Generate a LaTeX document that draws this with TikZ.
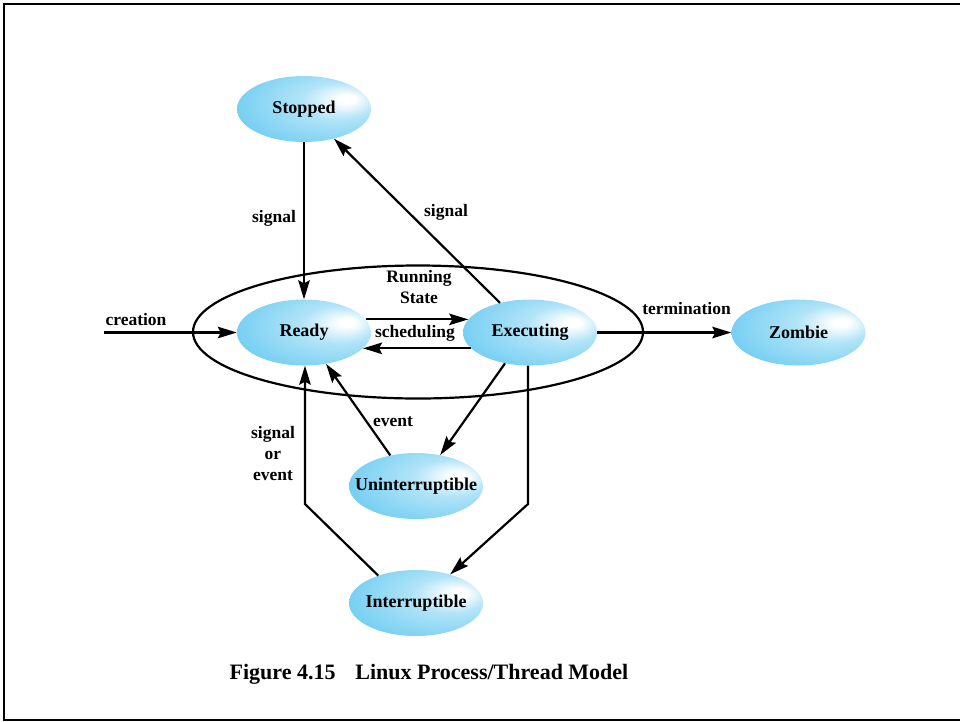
\documentclass[tikz,border=0pt]{standalone}
\usepackage{fontspec}
\setmainfont{Liberation Serif}
\usetikzlibrary{shapes.geometric,arrows.meta}

\definecolor{statecyan}{RGB}{62,187,237}
% off-centre glow: bright spot right of centre, strongest colour on the left
\pgfdeclareradialshading{stateglow}{\pgfpoint{17bp}{8bp}}{%
  color(0bp)=(white); color(3bp)=(white); color(14bp)=(statecyan!40);
  color(34bp)=(statecyan!72); color(48bp)=(statecyan); color(60bp)=(statecyan)}

% state text is set in a zero-width box so the ellipse keeps its fixed size
\newcommand\statetext[1]{\makebox[0pt][c]{#1}}

\tikzset{
  state/.style={ellipse, shading=stateglow, minimum width=134, minimum height=66,
    inner sep=0pt, font=\fontsize{18}{21}\selectfont\bfseries},
  lbl/.style={align=center, inner sep=0pt, font=\fontsize{17.5}{21}\selectfont\bfseries},
  flow/.style={line width=2.2pt, -{Stealth[length=19pt,width=11.5pt,inset=3pt]}}
}

\begin{document}
\begin{tikzpicture}[x=1pt,y=-1pt]
  \useasboundingbox (0,0) rectangle (960,721);
  % frame (its right side runs past the page edge)
  \draw[line width=2.2pt] (4.3,3.7) rectangle (985,719.6);

  % the "running" group
  \node[draw, ellipse, line width=2.2pt, minimum width=450, minimum height=133,
        inner sep=0pt] (running) at (418,332) {};

  % states
  \node[state] (stopped) at (304,109) {\statetext{Stopped}};
  \node[state] (ready)   at (304,332.5) {\statetext{Ready}};
  \node[state] (exec)    at (530,332.5) {\statetext{Executing}};
  \node[state] (zombie)  at (798.5,332.5) {\statetext{Zombie}};
  \node[state] (unint)   at (416,486) {\statetext{Uninterruptible}};
  \node[state] (intr)    at (416,603) {\statetext{Interruptible}};

  % free end and bends
  \coordinate (start) at (104,332.5);
  \coordinate (lbend) at (305,504);
  \coordinate (rbend) at (528,504);

  % transitions
  \draw[flow] (start) -- (ready.west);
  \draw[flow] (stopped.south) -- (ready.north);
  \draw[flow] (exec) -- (stopped);
  \draw[flow] (ready.12) -- (exec.168);
  \draw[flow] (exec.195) -- (ready.-15);
  \draw[flow] (exec.east) -- (zombie.west);
  \draw[flow] (exec.231) -- (unint.52);
  \draw[flow] (unint.130) -- (ready);
  \draw[flow] (exec.south -| rbend) -- (rbend) -- (intr.40);
  \draw[flow] (intr.144) -- (lbend) -- (ready.south -| lbend);

  % labels
  \node[lbl] (lcreation) at (136,320) {creation};
  \node[lbl] (lsig1) at (274,218) {signal};
  \node[lbl] (lsig2) at (446,212) {signal};
  \node[lbl] (lrun)  at (419,287) {Running\\State};
  \node[lbl] (lsched) at (415,333) {scheduling};
  \node[lbl] (lterm) at (686.5,309) {termination};
  \node[lbl] (levent) at (393,422) {event};
  \node[lbl] (lsoe) at (273,454) {signal\\or\\event};

  % caption
  \node[inner sep=0pt, font=\fontsize{22}{24}\selectfont\bfseries] (caption)
    at (429,674) {Figure 4.15\hspace{0.9em}Linux Process/Thread Model};
\end{tikzpicture}
\end{document}
